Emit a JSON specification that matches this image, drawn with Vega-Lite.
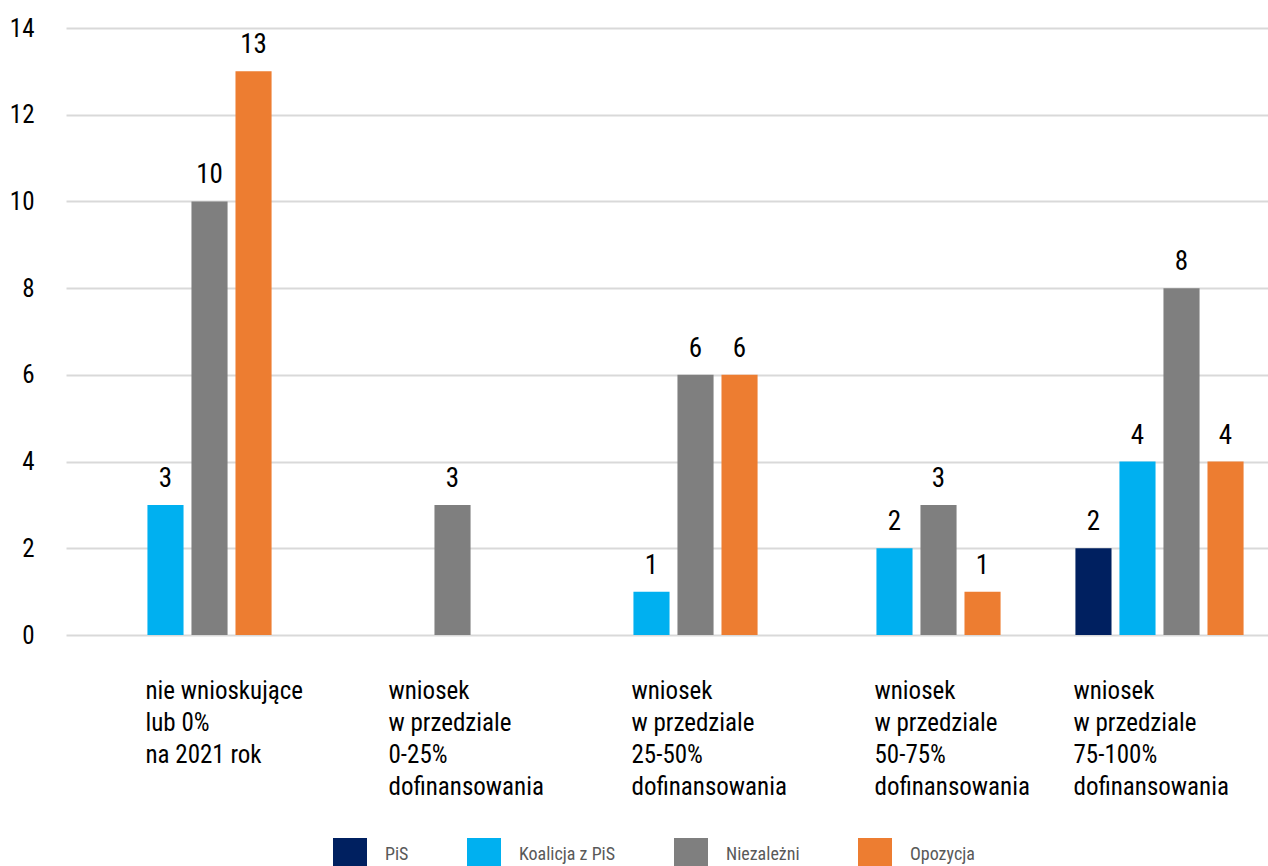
{
  "$schema": "https://vega.github.io/schema/vega-lite/v6.json",
  "width": 1202,
  "height": 607,
  "autosize": {"type": "none"},
  "padding": {"left": 66, "top": 28, "right": 0, "bottom": 231},
  "background": "white",
  "config": {
    "view": {"stroke": null},
    "font": "Roboto Condensed, Roboto, sans-serif"
  },
  "data": {
    "values": [
      {"cat": "nie wnioskujące|lub 0%|na 2021 rok", "party": "Koalicja z PiS", "value": 3},
      {"cat": "nie wnioskujące|lub 0%|na 2021 rok", "party": "Niezależni", "value": 10},
      {"cat": "nie wnioskujące|lub 0%|na 2021 rok", "party": "Opozycja", "value": 13},
      {"cat": "wniosek|w przedziale|0-25%|dofinansowania", "party": "Niezależni", "value": 3},
      {"cat": "wniosek|w przedziale|25-50%|dofinansowania", "party": "Koalicja z PiS", "value": 1},
      {"cat": "wniosek|w przedziale|25-50%|dofinansowania", "party": "Niezależni", "value": 6},
      {"cat": "wniosek|w przedziale|25-50%|dofinansowania", "party": "Opozycja", "value": 6},
      {"cat": "wniosek|w przedziale|50-75%|dofinansowania", "party": "Koalicja z PiS", "value": 2},
      {"cat": "wniosek|w przedziale|50-75%|dofinansowania", "party": "Niezależni", "value": 3},
      {"cat": "wniosek|w przedziale|50-75%|dofinansowania", "party": "Opozycja", "value": 1},
      {"cat": "wniosek|w przedziale|75-100%|dofinansowania", "party": "PiS", "value": 2},
      {"cat": "wniosek|w przedziale|75-100%|dofinansowania", "party": "Koalicja z PiS", "value": 4},
      {"cat": "wniosek|w przedziale|75-100%|dofinansowania", "party": "Niezależni", "value": 8},
      {"cat": "wniosek|w przedziale|75-100%|dofinansowania", "party": "Opozycja", "value": 4}
    ]
  },
  "encoding": {
    "x": {
      "field": "cat",
      "type": "nominal",
      "sort": null,
      "scale": {
        "domain": [
          "nie wnioskujące|lub 0%|na 2021 rok",
          "wniosek|w przedziale|0-25%|dofinansowania",
          "wniosek|w przedziale|25-50%|dofinansowania",
          "wniosek|w przedziale|50-75%|dofinansowania",
          "wniosek|w przedziale|75-100%|dofinansowania"
        ],
        "range": [0, 1215],
        "paddingInner": 0,
        "paddingOuter": 0
      },
      "axis": {
        "title": null,
        "domain": false,
        "ticks": false,
        "grid": false,
        "labelAngle": 0,
        "labelAlign": "left",
        "labelBaseline": "top",
        "labelOffset": {"condition": {"test": "indexof(datum.value, '75-100') >= 0", "value": -86}, "value": -42},
        "labelPadding": 43,
        "labelFont": "Roboto Condensed, Roboto, sans-serif",
        "labelFontSize": 25,
        "labelLineHeight": 32,
        "labelColor": "#000000",
        "labelLimit": 400,
        "labelExpr": "split(datum.label, '|')"
      }
    },
    "xOffset": {
      "field": "party",
      "type": "nominal",
      "scale": {
        "domain": ["PiS", "Koalicja z PiS", "Niezależni", "Opozycja"],
        "paddingInner": 0.18,
        "paddingOuter": 0.85
      }
    },
    "y": {
      "field": "value",
      "type": "quantitative",
      "scale": {"domain": [0, 14], "nice": false},
      "axis": {
        "title": null,
        "domain": false,
        "ticks": false,
        "values": [0, 2, 4, 6, 8, 10, 12, 14],
        "gridColor": "#d9d9d9",
        "gridWidth": 2,
        "labelPadding": 32,
        "labelFont": "Roboto Condensed, Roboto, sans-serif",
        "labelFontSize": 25,
        "labelColor": "#000000"
      }
    }
  },
  "layer": [
    {
      "mark": {"type": "bar"},
      "encoding": {
        "color": {
          "field": "party",
          "type": "nominal",
          "scale": {
            "domain": ["PiS", "Koalicja z PiS", "Niezależni", "Opozycja"],
            "range": ["#002060", "#00b0f0", "#7f7f7f", "#ed7d31"]
          },
          "legend": {
            "title": null,
            "orient": "none",
            "direction": "horizontal",
            "legendX": 267,
            "legendY": 810,
            "padding": 0,
            "symbolType": "square",
            "symbolSize": 1156,
            "symbolStrokeWidth": 0,
            "symbolOpacity": 1,
            "labelFont": "Roboto Condensed, Roboto, sans-serif",
            "labelFontSize": 18,
            "labelColor": "#595959",
            "labelOffset": 18,
            "columnPadding": 58
          }
        }
      }
    },
    {
      "mark": {"type": "text", "font": "Roboto Condensed, Roboto, sans-serif", "fontSize": 27, "color": "#000000", "baseline": "alphabetic", "dy": -18},
      "encoding": {
        "text": {"field": "value", "type": "quantitative"}
      }
    }
  ]
}
